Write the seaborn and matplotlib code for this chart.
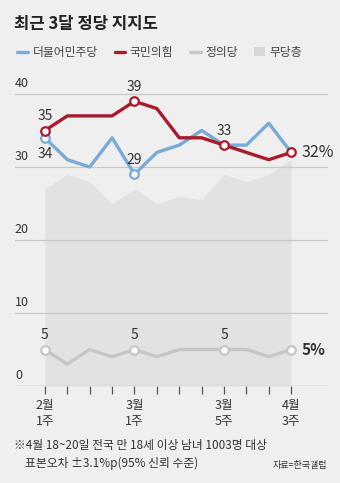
import numpy as np
import pandas as pd
import seaborn as sns
import matplotlib.pyplot as plt
from matplotlib.lines import Line2D
from matplotlib.patches import Patch

# 주간 정당 지지도 (2월 1주 ~ 4월 3주)
weeks = ['2월 1주', '2월 2주', '2월 3주', '2월 4주',
         '3월 1주', '3월 2주', '3월 3주', '3월 4주', '3월 5주',
         '4월 1주', '4월 2주', '4월 3주']
minju = [34, 31, 30, 34, 29, 32, 33, 35, 33, 33, 36, 32]
ppp = [35, 37, 37, 37, 39, 38, 34, 34, 33, 32, 31, 32]
justice = [5, 3, 5, 4, 5, 4, 5, 5, 5, 5, 4, 5]
nonpartisan = [27, 29, 28, 25, 27, 25, 26, 25.5, 29, 28, 29, 31]

tick_idx = [0, 4, 8, 11]
tick_labels = ['2월\n1주', '3월\n1주', '3월\n5주', '4월\n3주']

bg = '#efefef'
c_blue = '#7aaad6'
c_red = '#a81a2c'
c_gray = '#c6c6c6'
c_area = '#e2e2e2'
c_text = '#333333'

sns.set_style('white', {'axes.facecolor': bg, 'figure.facecolor': bg})
plt.rcParams['font.family'] = ['Noto Sans CJK KR', 'DejaVu Sans']

df = pd.DataFrame({'x': range(len(weeks)), '더불어민주당': minju,
                   '국민의힘': ppp, '정의당': justice, '무당층': nonpartisan})
long = df.melt(id_vars='x', value_vars=['더불어민주당', '국민의힘', '정의당'],
               var_name='party', value_name='v')

fig = plt.figure(figsize=(3.4, 4.83), dpi=100)
ax = fig.add_axes([0.044, 0.2008, 0.921, 0.6197])

ax.fill_between(df['x'], 0, df['무당층'], color=c_area, lw=0, zorder=1)
for y in [10, 20, 30, 40]:
    ax.axhline(y, color='#c8c8c8', lw=0.9, zorder=1.5)
ax.axhline(0, color='#bdbdbd', lw=1.0, zorder=1.5)

palette = {'더불어민주당': c_blue, '국민의힘': c_red, '정의당': c_gray}
sns.lineplot(data=long, x='x', y='v', hue='party', palette=palette,
             hue_order=['정의당', '더불어민주당', '국민의힘'],
             lw=2.4, legend=False, ax=ax, zorder=3)

# 강조 점 (흰 속)
mk = dict(s=38, facecolor='white', linewidth=1.6, zorder=4, legend=False, ax=ax)
sns.scatterplot(x=[0, 4, 8, 11], y=[justice[i] for i in [0, 4, 8, 11]],
                edgecolor=c_gray, **mk)
sns.scatterplot(x=[0, 4], y=[minju[i] for i in [0, 4]], edgecolor=c_blue, **mk)
sns.scatterplot(x=[0, 4, 8, 11], y=[ppp[i] for i in [0, 4, 8, 11]],
                edgecolor=c_red, **mk)

lab = dict(color=c_text, fontsize=10, ha='center', zorder=5)
for i in [0, 4, 8]:
    ax.text(i, ppp[i] + 1.0, str(ppp[i]), va='bottom', **lab)
    ax.text(i, justice[i] + 1.0, str(justice[i]), va='bottom', **lab)
ax.text(0, minju[0] - 1.2, str(minju[0]), va='top', **lab)
ax.text(4, minju[4] + 1.0, str(minju[4]), va='bottom', **lab)
ax.text(11.45, ppp[11], f'{ppp[11]}%', va='center', ha='left',
        color=c_text, fontsize=11.5)
ax.text(11.45, justice[11], f'{justice[11]}%', va='center', ha='left',
        color=c_text, fontsize=11, fontweight='bold')

ax.set_xlim(-1.34, 12.65)
ax.set_ylim(0, 41)
for y in [0, 10, 20, 30, 40]:
    ax.text(-1.34, y + 0.6, str(y), va='bottom', ha='left',
            color=c_text, fontsize=9)
ax.set_yticks([])
ax.set_xticks(range(len(weeks)))
ax.set_xticklabels([tick_labels[tick_idx.index(i)] if i in tick_idx else ''
                    for i in range(len(weeks))], fontsize=9, color=c_text,
                   linespacing=1.3)
ax.tick_params(axis='x', length=6, width=0.9, color='#555555', pad=3,
               bottom=True)
ax.set_xlabel('')
ax.set_ylabel('')
sns.despine(ax=ax, left=True, bottom=True)

fig.text(0.041, 0.94, '최근 3달 정당 지지도', fontsize=12, fontweight='bold',
         color='#222222', va='baseline')

handles = [Line2D([], [], color=c_blue, lw=2.4),
           Line2D([], [], color=c_red, lw=2.4),
           Line2D([], [], color=c_gray, lw=2.4),
           Patch(facecolor='#d8d8d8', edgecolor='none')]
fig.legend(handles, ['더불어민주당', '국민의힘', '정의당', '무당층'],
           loc='center left', bbox_to_anchor=(0.02, 0.892), ncol=4,
           frameon=False, fontsize=8.5, handlelength=0.9, handletextpad=0.4,
           columnspacing=1.4, labelcolor='#444444')

fig.text(0.041, 0.078, '※4월 18~20일 전국 만 18세 이상 남녀 1003명 대상',
         fontsize=8.5, color=c_text, va='center')
fig.text(0.074, 0.04, '표본오차 ±3.1%p(95% 신뢰 수준)', fontsize=8.5,
         color=c_text, va='center')
fig.text(0.963, 0.037, '자료=한국갤럽', fontsize=6.5, color=c_text,
         va='center', ha='right')

fig.savefig('out.png', dpi=100, facecolor=bg)
